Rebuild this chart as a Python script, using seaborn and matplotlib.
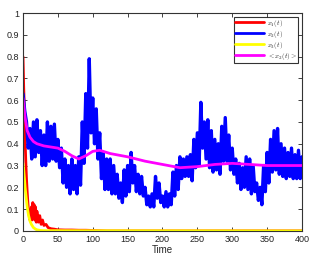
import numpy as np
import pandas as pd
import matplotlib
matplotlib.use("Agg")
import matplotlib.pyplot as plt
import seaborn as sns

# x1(t): red, fast decay with a small noisy bump
t_x1 = [0, 1, 2, 3, 4, 5, 6, 7, 8, 9, 10, 11, 12, 13, 14, 15, 16, 17, 18, 19, 20,
        22, 24, 26, 28, 30, 33, 36, 40, 45, 50, 60, 70, 80, 90, 100, 120, 400]
x1 = [0.80, 0.66, 0.55, 0.42, 0.32, 0.24, 0.18, 0.13, 0.09, 0.07, 0.05, 0.08, 0.11,
      0.05, 0.13, 0.06, 0.12, 0.05, 0.11, 0.04, 0.09, 0.04, 0.07, 0.03, 0.05, 0.025,
      0.03, 0.015, 0.01, 0.008, 0.005, 0.004, 0.004, 0.003, 0.003, 0.002, 0.0, 0.0]

# x2(t): blue, noisy band read as upper / lower edge every 5 time units
t_x2 = list(range(0, 401, 5))
x2_hi = [0.63, 0.50, 0.47, 0.50, 0.51, 0.46, 0.44, 0.50, 0.48, 0.49,
         0.42, 0.38, 0.33, 0.30, 0.33, 0.30, 0.34, 0.50, 0.63, 0.79,
         0.61, 0.56, 0.45, 0.36, 0.33, 0.33, 0.30, 0.26, 0.22, 0.28,
         0.30, 0.36, 0.30, 0.26, 0.25, 0.20, 0.16, 0.17, 0.25, 0.22,
         0.16, 0.18, 0.17, 0.27, 0.30, 0.34, 0.33, 0.34, 0.35, 0.42,
         0.45, 0.59, 0.50, 0.51, 0.46, 0.42, 0.40, 0.48, 0.52, 0.44,
         0.38, 0.33, 0.31, 0.29, 0.34, 0.33, 0.30, 0.22, 0.20, 0.30,
         0.36, 0.42, 0.46, 0.47, 0.40, 0.38, 0.36, 0.38, 0.35, 0.37, 0.34]
x2_lo = [0.55, 0.38, 0.33, 0.34, 0.36, 0.30, 0.30, 0.32, 0.33, 0.32,
         0.29, 0.22, 0.20, 0.17, 0.19, 0.17, 0.21, 0.31, 0.38, 0.45,
         0.40, 0.33, 0.24, 0.19, 0.19, 0.17, 0.17, 0.15, 0.13, 0.16,
         0.18, 0.22, 0.18, 0.17, 0.16, 0.12, 0.11, 0.11, 0.15, 0.13,
         0.11, 0.11, 0.12, 0.16, 0.19, 0.24, 0.25, 0.25, 0.23, 0.29,
         0.30, 0.38, 0.33, 0.29, 0.27, 0.28, 0.26, 0.32, 0.32, 0.28,
         0.26, 0.22, 0.19, 0.20, 0.19, 0.17, 0.18, 0.14, 0.12, 0.18,
         0.22, 0.27, 0.28, 0.26, 0.25, 0.24, 0.25, 0.24, 0.24, 0.24, 0.26]

# x3(t): yellow, decays to zero
t_x3 = [0, 1, 2, 3, 4, 5, 6, 8, 10, 12, 15, 18, 20, 25, 30, 400]
x3 = [0.31, 0.28, 0.24, 0.20, 0.17, 0.14, 0.11, 0.07, 0.045, 0.03, 0.015, 0.008,
      0.005, 0.002, 0.001, 0.0]

# <x2(t)>: magenta running mean
t_mean = [0, 3, 6, 10, 15, 20, 30, 40, 50, 60, 70, 80, 90, 100, 110, 125, 150,
          175, 200, 225, 250, 275, 300, 325, 350, 375, 400]
x2_mean = [0.61, 0.52, 0.46, 0.43, 0.41, 0.40, 0.39, 0.385, 0.38, 0.365, 0.345,
           0.33, 0.345, 0.365, 0.37, 0.355, 0.34, 0.32, 0.305, 0.29, 0.295,
           0.305, 0.31, 0.305, 0.30, 0.30, 0.30]

x_ticks = list(range(0, 401, 50))
y_ticks = [0, 0.1, 0.2, 0.3, 0.4, 0.5, 0.6, 0.7, 0.8, 0.9, 1]

# blue band drawn as a zigzag between the read edges
t_band, v_band = [], []
for t, hi, lo in zip(t_x2, x2_hi, x2_lo):
    t_band += [t, t + 2.5]
    v_band += [hi, lo]
band = pd.DataFrame({"t": t_band[:-1], "v": v_band[:-1]})

sns.set_style("ticks")
plt.rcParams["font.family"] = ["Liberation Sans", "DejaVu Sans"]
plt.rcParams["mathtext.fontset"] = "cm"

fig = plt.figure(figsize=(3.24, 2.66), dpi=100)
ax = fig.add_axes([0.071, 0.132, 0.861, 0.819])

sns.lineplot(x=t_x1, y=x1, color="#ff0000", lw=2.0, label=r"$x_1(t)$", ax=ax)
sns.lineplot(data=band, x="t", y="v", color="#0000ff", lw=2.4, sort=False,
             label=r"$x_2(t)$", ax=ax)
sns.lineplot(x=t_x3, y=x3, color="#ffff00", lw=2.0, label=r"$x_3(t)$", ax=ax)
sns.lineplot(x=t_mean, y=x2_mean, color="#ff00ff", lw=2.0,
             label=r"$<x_2(t)>$", ax=ax)

ax.set_xlim(0, 400)
ax.set_ylim(0, 1)
ax.set_xticks(x_ticks)
ax.set_yticks(y_ticks)
ax.set_yticklabels(["0", "0.1", "0.2", "0.3", "0.4", "0.5", "0.6", "0.7",
                    "0.8", "0.9", "1"])
ax.tick_params(direction="in", length=3, width=0.6, labelsize=6.5, pad=3,
               top=True, right=True, colors="#222222")
for s in ax.spines.values():
    s.set_visible(True)
    s.set_linewidth(0.8)
    s.set_color("#333333")
ax.set_xlabel("Time", fontsize=7, labelpad=1)
ax.set_ylabel("")

leg = ax.legend(loc="upper right", fontsize=5, frameon=True, fancybox=False,
                handlelength=4.2, handletextpad=0.3, borderpad=0.2,
                labelspacing=0.0, borderaxespad=0.5)
leg.get_frame().set_edgecolor("black")
leg.get_frame().set_linewidth(0.8)
for line in leg.get_lines():
    line.set_linewidth(2.0)

fig.savefig("out.png", dpi=100)
